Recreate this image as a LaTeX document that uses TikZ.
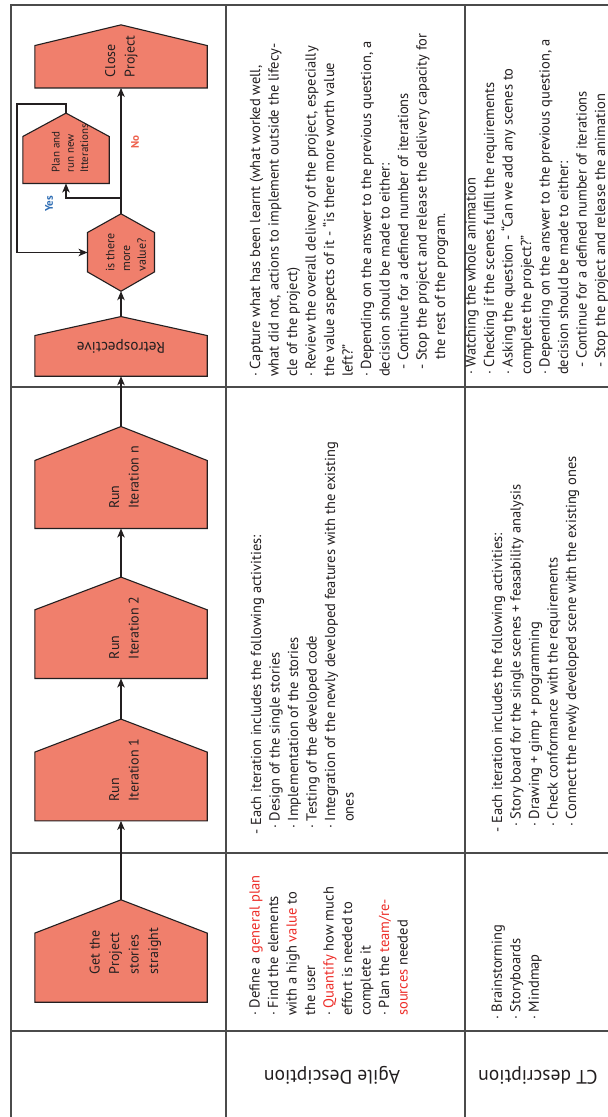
\documentclass[tikz,border=0pt]{standalone}
\usepackage{fontspec}
\setmainfont{PT Sans}
\usetikzlibrary{arrows.meta,backgrounds}

\definecolor{housefill}{RGB}{240,127,108}
\definecolor{inkdark}{RGB}{35,31,32}
\definecolor{rulegray}{RGB}{75,75,75}
\definecolor{yesblue}{RGB}{46,109,180}
\definecolor{nored}{RGB}{238,96,76}
\definecolor{hilite}{RGB}{237,45,40}

\newcommand\hl[1]{\textcolor{hilite}{#1}}
% multi-line label set sideways, reading upwards
\newcommand\upstack[1]{\rotatebox{90}{\begin{tabular}{@{}l@{}}#1\end{tabular}}}
% pentagon with a pointed roof around a node's bounding box
\newcommand\roofed[2]{\path[housepath] (#1.south west) -- ([yshift=-#2pt]#1.north west) -- (#1.north) -- ([yshift=-#2pt]#1.north east) -- (#1.south east) -- cycle;}

\begin{document}
\begin{tikzpicture}[x=1pt,y=-1pt,
  shapebox/.style={inner sep=0pt, minimum width=172pt, text=inkdark,
    font=\fontsize{14}{19.5}\selectfont},
  housepath/.style={fill=housefill, draw=inkdark, line width=1.1pt},
  arr/.style={draw=inkdark, line width=1.1pt,
    -{Stealth[length=9pt,width=7.5pt,inset=2.5pt]}},
  rule/.style={draw=rulegray, line width=1.3pt},
  desc/.style={rotate=90, anchor=north west, inner sep=0pt, align=left,
    text=inkdark, font=\fontsize{14.5}{18.5}\selectfont},
  hdr/.style={rotate=180, inner sep=0pt, text=inkdark,
    font=\fontsize{19.5}{22}\selectfont},
  flowlbl/.style={rotate=90, inner sep=0pt, font=\fontsize{11}{13}\selectfont\bfseries}]

\useasboundingbox (0,0) rectangle (608,1117);
\clip (0,0) rectangle (608,1117);

% flow shapes (boxes span apex to base)
\node[shapebox, minimum height=102pt] (get) at (121,951) {\hspace*{8pt}\upstack{Get the\\Project\\stories\\straight}};
\node[shapebox, minimum height=101.4pt] (run1) at (121,770) {\hspace*{8pt}\upstack{Run\\Iteration 1}};
\node[shapebox, minimum height=101pt] (run2) at (121,627.8) {\hspace*{8pt}\upstack{Run\\Iteration 2}};
\node[shapebox, minimum height=101.6pt] (runn) at (121,477.5) {\hspace*{8pt}\upstack{Run\\Iteration n}};
\node[shapebox, minimum height=59.3pt, font=\fontsize{15.3}{18}\selectfont] (retro) at (121,346.4) {\rotatebox{180}{Retrospective}};
\node[shapebox, minimum height=62.7pt] (close) at (121,56.4) {\upstack{Close\\Project}};
\node[shapebox, minimum width=86pt, minimum height=70pt, font=\fontsize{11}{14.2}\selectfont] (plan) at (66,148.3) {\hspace*{10pt}\upstack{Plan and\\run new\\Itterations}};
\node[shapebox, minimum width=66.6pt, minimum height=77pt, font=\fontsize{12}{15.7}\selectfont] (hex) at (121,252.5) {\hspace*{12pt}\upstack{is there\\more\\value?}};

\begin{scope}[on background layer]
  \fill[white] (0,0) rectangle (608,1117);
  \roofed{get}{33.3}
  \roofed{run1}{33}
  \roofed{run2}{32.7}
  \roofed{runn}{34}
  \roofed{retro}{19}
  \roofed{close}{20.7}
  \roofed{plan}{23.4}
  \path[housepath] (hex.north) -- ([yshift=-18.7pt]hex.north east) -- ([yshift=19.3pt]hex.south east)
    -- (hex.south) -- ([yshift=19.3pt]hex.south west) -- ([yshift=-18.7pt]hex.north west) -- cycle;
\end{scope}

% table rules
\draw[rule] (11,1120) -- (11,5) -- (612,5);
\draw[rule] (226,5) -- (226,1120);
\draw[rule] (465,5) -- (465,1120);
\draw[rule] (11,387) -- (612,387);
\draw[rule] (11,853) -- (612,853);
\draw[rule] (11,1031) -- (612,1031);

% connectors
\draw[arr] (get.north) -- (run1.south);
\draw[arr] (run1.north) -- (run2.south);
\draw[arr] (run2.north) -- (runn.south);
\draw[arr] (runn.north) -- (retro.south);
\draw[arr] (retro.north) -- (hex.south);
\draw[arr] (hex.north) -- (close.south);
\coordinate (fork) at (121,198);
\draw[arr] (fork) -| (plan.south);
\coordinate (loopcorner) at (17,104);
\draw[arr] (plan.north) |- (loopcorner) |- (hex.west);

\node[flowlbl, text=yesblue] (yes) at (49,204) {Yes};
\node[flowlbl, text=nored] (no) at (135,142) {No};

% row headers
\node[hdr] (agilehdr) at (332,1075) {Agile Desciption};
\node[hdr] (cthdr) at (538,1075) {CT description};

% agile descriptions
\node[desc] (agileretro) at (249.5,377) {%
· Capture what has been learnt (what worked well,\\
what did not, actions to implement outside the lifecy-\\
cle of the project)\\
· Review the overall delivery of the project, especially\\
the value aspects of it - “is there more worth value\\
left?”\\
· Depending on the answer to the previous question, a\\
decision should be made to either:\\
\hspace*{7pt}- Continue for a defined number of iterations\\
\hspace*{7pt}- Stop the project and release the delivery capacity for\\
\hspace*{17pt}the rest of the program.};

\node[desc] (agileiter) at (250.7,835) {%
- Each iteration includes the following activities:\\
\hspace*{6pt}· Design of the single stories\\
\hspace*{6pt}· Implementation of the stories\\
\hspace*{6pt}· Testing of the developed code\\
\hspace*{6pt}· Integration of the newly developed features with the existing\\
\hspace*{13pt}ones};

\node[desc] (agilestart) at (249.1,1016) {%
· Define a \hl{general plan}\\
· Find the elements\\
with a high \hl{value} to\\
the user\\
· \hl{Quantify} how much\\
effort is needed to\\
complete it\\
· Plan the \hl{team/re-}\\
\hl{sources} needed};

% CT descriptions
\node[desc] (ctretro) at (465.1,375) {%
· Watching the whole animation\\
· Checking if the scenes fulfill the requirements\\
· Asking the question - “Can we add any scenes to\\
complete the project?”\\
· Depending on the answer to the previous question, a\\
decision should be made to either:\\
\hspace*{7pt}- Continue for a defined number of iterations\\
\hspace*{7pt}- Stop the project and release the animation};

\node[desc] (ctiter) at (491.7,833) {%
- Each iteration includes the following activities:\\
\hspace*{6pt}· Story board for the single scenes + feasability analysis\\
\hspace*{6pt}· Drawing + gimp + programming\\
\hspace*{6pt}· Check conformance with the requirements\\
\hspace*{6pt}· Connect the newly developed scene with the existing ones};

\node[desc] (ctstart) at (491.4,1020) {%
· Brainstorming\\
· Storyboards\\
· Mindmap};

\end{tikzpicture}
\end{document}
